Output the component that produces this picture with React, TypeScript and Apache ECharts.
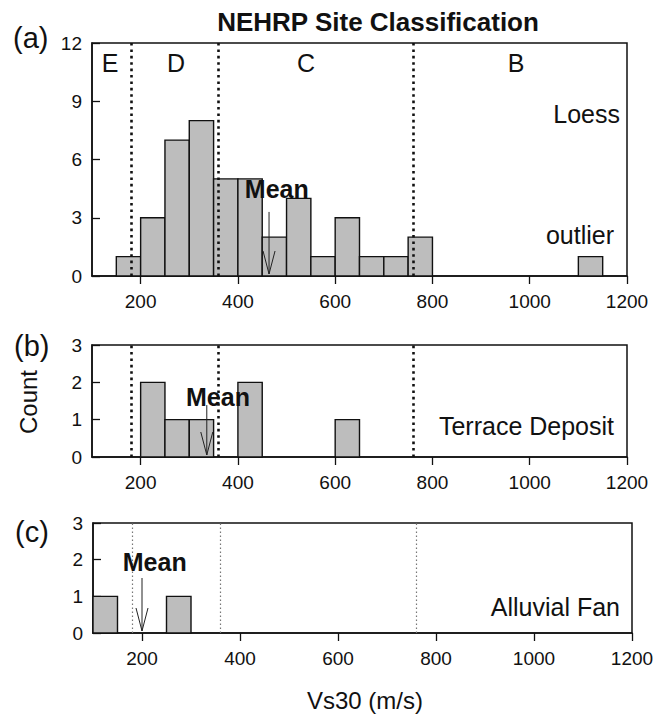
import React, { useEffect, useRef } from "react";
import * as echarts from "echarts";

const BIN_WIDTH = 50;
const loessBinStarts = [150, 200, 250, 300, 350, 400, 450, 500, 550, 600, 650, 700, 750, 1100];
const loessCounts = [1, 3, 7, 8, 5, 5, 2, 4, 1, 3, 1, 1, 2, 1];
const terraceBinStarts = [200, 250, 300, 400, 600];
const terraceCounts = [2, 1, 1, 2, 1];
const alluvialBinStarts = [100, 250];
const alluvialCounts = [1, 1];

const siteBoundaries = [180, 360, 760];
const xTickValues = [200, 400, 600, 800, 1000, 1200];

// [mean Vs30, arrow top count, "Mean" label x, "Mean" label y]
const loessMean = [464, 3.3, 480, 4.5];
const terraceMean = [336, 1.39, 359, 1.61];
const alluvialMean = [200, 1.5, 226, 1.94];

const FONT = "'Liberation Sans', Arial, Helvetica, sans-serif";

function binsData(starts: number[], counts: number[]) {
  return starts.map((s, i) => [s, s + BIN_WIDTH, counts[i]]);
}

function barRender(params: any, api: any) {
  const lo = api.value(0);
  const hi = api.value(1);
  const c = api.value(2);
  const p0 = api.coord([lo, c]);
  const p1 = api.coord([hi, 0]);
  return {
    type: "rect",
    shape: { x: p0[0], y: p0[1], width: p1[0] - p0[0], height: p1[1] - p0[1] },
    style: { fill: "#bdbdbd", stroke: "#111", lineWidth: 1.4 },
  };
}

function meanRender(params: any, api: any) {
  const top = api.coord([api.value(0), api.value(1)]);
  const bot = api.coord([api.value(0), 0]);
  const txt = api.coord([api.value(2), api.value(3)]);
  const x = top[0];
  const by = bot[1] - 2;
  return {
    type: "group",
    children: [
      { type: "line", shape: { x1: x, y1: top[1], x2: x, y2: by }, style: { stroke: "#222", lineWidth: 1 } },
      {
        type: "polyline",
        shape: { points: [[x - 6, by - 23], [x, by], [x + 6, by - 23]] },
        style: { stroke: "#222", lineWidth: 1, fill: "none" },
      },
      {
        type: "text",
        x: txt[0],
        y: txt[1],
        style: { text: "Mean", font: `bold 25px ${FONT}`, fill: "#111", align: "center", verticalAlign: "middle" },
      },
    ],
  };
}

function xAxisCfg(gridIndex: number) {
  return {
    type: "value",
    gridIndex,
    min: 100,
    max: 1200,
    axisLine: { show: true, onZero: false, lineStyle: { color: "#111", width: 1.5 } },
    axisTick: { show: true, customValues: xTickValues, length: 8, lineStyle: { color: "#111", width: 1.3 } },
    axisLabel: {
      customValues: xTickValues,
      fontSize: 19,
      color: "#111",
      margin: 16,
      fontFamily: FONT,
      formatter: (v: number) => String(v),
    },
    splitLine: { show: false },
  };
}

function yAxisCfg(gridIndex: number, max: number, interval: number) {
  return {
    type: "value",
    gridIndex,
    min: 0,
    max,
    interval,
    axisLine: { show: true, lineStyle: { color: "#111", width: 1.5 } },
    axisTick: { show: true, inside: true, length: 8, lineStyle: { color: "#111", width: 1.3 } },
    axisLabel: { fontSize: 19, color: "#111", margin: 10, fontFamily: FONT },
    splitLine: { show: false },
  };
}

function boundaryMarkLine(heavy: boolean) {
  return {
    silent: true,
    symbol: ["none", "none"],
    label: { show: false },
    lineStyle: heavy
      ? { color: "#111", width: 2.6, type: [2.6, 3.8] }
      : { color: "#777", width: 1.2, type: [1.5, 2.5] },
    data: siteBoundaries.map((v) => ({ xAxis: v })),
  };
}

function textG(text: string, x: number, y: number, size: number, align = "center", bold = false, rotation = 0) {
  return {
    type: "text",
    x,
    y,
    rotation,
    style: {
      text,
      font: `${bold ? "bold " : ""}${size}px ${FONT}`,
      fill: "#111",
      align,
      verticalAlign: "middle",
    },
  };
}

export default function App() {
  const ref = useRef<HTMLDivElement>(null);
  useEffect(() => {
    if (!ref.current) return;
    const chart = echarts.init(ref.current, null, { renderer: "svg" });
    const panels = [
      { starts: loessBinStarts, counts: loessCounts, mean: loessMean, heavy: true },
      { starts: terraceBinStarts, counts: terraceCounts, mean: terraceMean, heavy: true },
      { starts: alluvialBinStarts, counts: alluvialCounts, mean: alluvialMean, heavy: false },
    ];
    const series: any[] = [];
    panels.forEach((p, i) => {
      series.push({
        type: "custom",
        xAxisIndex: i,
        yAxisIndex: i,
        renderItem: barRender,
        encode: { x: [0, 1], y: 2 },
        data: binsData(p.starts, p.counts),
        markLine: boundaryMarkLine(p.heavy),
        z: 2,
      });
      series.push({
        type: "custom",
        xAxisIndex: i,
        yAxisIndex: i,
        renderItem: meanRender,
        encode: { x: [0, 2], y: [1, 3] },
        data: [p.mean],
        z: 5,
      });
    });
    const option: any = {
      animation: false,
      backgroundColor: "#fff",
      grid: [
        { left: 92, right: 40, top: 43, height: 233, show: true, borderColor: "#111", borderWidth: 1.5 },
        { left: 92, right: 40, top: 345, height: 112, show: true, borderColor: "#111", borderWidth: 1.5 },
        { left: 93, right: 35, top: 523, height: 110, show: true, borderColor: "#111", borderWidth: 1.5 },
      ],
      xAxis: [xAxisCfg(0), xAxisCfg(1), xAxisCfg(2)],
      yAxis: [yAxisCfg(0, 12, 3), yAxisCfg(1, 3, 1), yAxisCfg(2, 3, 1)],
      series,
      graphic: [
        textG("NEHRP Site Classification", 378, 22, 26, "center", true),
        textG("(a)", 13, 38, 29, "left"),
        textG("(b)", 14, 346, 29, "left"),
        textG("(c)", 15, 532, 29, "left"),
        textG("E", 110, 63, 25),
        textG("D", 176, 63, 25),
        textG("C", 306, 63, 25),
        textG("B", 516, 63, 25),
        textG("Loess", 620, 114, 25, "right"),
        textG("outlier", 614, 235, 25, "right"),
        textG("Terrace Deposit", 614, 426, 25, "right"),
        textG("Alluvial Fan", 620, 607, 25, "right"),
        textG("Count", 28, 402, 24, "center", false, Math.PI / 2),
        textG("Vs30 (m/s)", 365, 700, 24, "center"),
      ],
    };
    chart.setOption(option);
    return () => chart.dispose();
  }, []);
  return <div ref={ref} style={{ width: 667, height: 715, position: "absolute", left: 0, top: 0 }} />;
}
